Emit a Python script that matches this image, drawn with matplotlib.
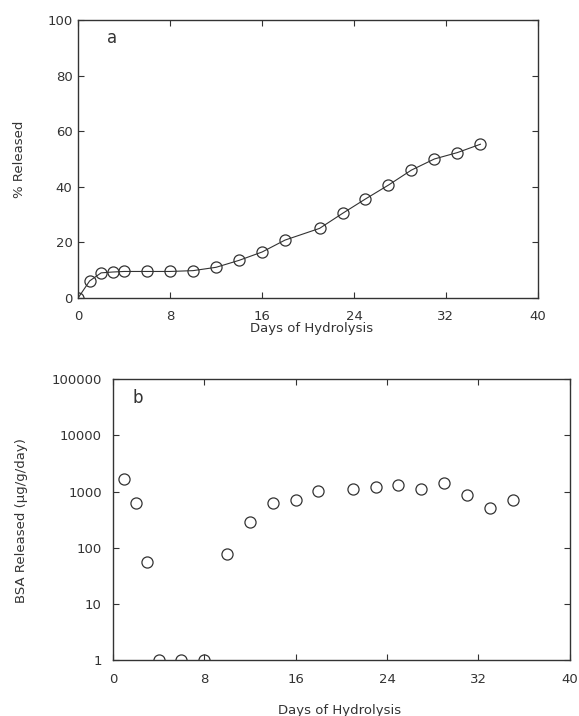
import numpy as np
import matplotlib
matplotlib.use('Agg')
import matplotlib.pyplot as plt
from matplotlib.ticker import FixedLocator, FixedFormatter

plt.rcParams['font.family'] = ['DejaVu Sans']
plt.rcParams['font.size'] = 9.5

# data
days_a = [0, 1, 2, 3, 4, 6, 8, 10, 12, 14, 16, 18, 21, 23, 25, 27, 29, 31, 33, 35]
released_pct = [0, 6.1, 9.0, 9.3, 9.5, 9.5, 9.5, 9.8, 11, 13.5, 16.5, 20.8, 25, 30.4, 35.6, 40.6, 46, 50, 52.3, 55.3]

days_b = [1, 2, 3, 4, 6, 8, 10, 12, 14, 16, 18, 21, 23, 25, 27, 29, 31, 33, 35]
rate_b = [1660, 630, 55, 1, 1, 1, 77, 290, 613, 720, 1020, 1090, 1210, 1290, 1090, 1390, 865, 500, 705]

x_ticks = [0, 8, 16, 24, 32, 40]
y_ticks_a = [0, 20, 40, 60, 80, 100]
y_ticks_b = [1, 10, 100, 1000, 10000, 100000]
y_labels_b = ['1', '10', '100', '1000', '10000', '100000']

ink = '#333333'

fig = plt.figure(figsize=(5.79, 7.16), dpi=100)

# panel a
ax1 = fig.add_axes([0.135, 0.584, 0.794, 0.388])
ax1.plot(days_a, released_pct, '-', color=ink, lw=0.8, marker='o', ms=8,
         mfc='none', mec=ink, mew=0.9)
ax1.set_xlim(0, 40)
ax1.set_ylim(0, 100)
ax1.set_xticks(x_ticks)
ax1.set_yticks(y_ticks_a)
ax1.set_xlabel('Days of Hydrolysis', color=ink)
ax1.set_ylabel('% Released', color=ink)
ax1.xaxis.set_label_coords(0.507, -0.088)
ax1.yaxis.set_label_coords(-0.113, 0.5)
ax1.text(0.063, 0.917, 'a', transform=ax1.transAxes, fontsize=12, color=ink)
ax1.tick_params(axis='x', pad=9)
ax1.tick_params(axis='y', pad=4)

# panel b
ax2 = fig.add_axes([0.195, 0.078, 0.789, 0.3925])
ax2.plot(days_b, rate_b, 'o', ms=8, mfc='none', mec=ink, mew=0.9)
ax2.set_yscale('log')
ax2.set_xlim(0, 40)
ax2.set_ylim(1, 100000)
ax2.set_xticks(x_ticks)
ax2.yaxis.set_major_locator(FixedLocator(y_ticks_b))
ax2.yaxis.set_major_formatter(FixedFormatter(y_labels_b))
ax2.yaxis.set_minor_locator(FixedLocator([]))
ax2.set_xlabel('Days of Hydrolysis', color=ink)
ax2.set_ylabel('BSA Released (\u03bcg/g/day)', color=ink)
ax2.xaxis.set_label_coords(0.497, -0.155)
ax2.yaxis.set_label_coords(-0.186, 0.495)
ax2.text(0.042, 0.915, 'b', transform=ax2.transAxes, fontsize=12, color=ink)
ax2.tick_params(axis='x', pad=9)
ax2.tick_params(axis='y', pad=8)

for ax in (ax1, ax2):
    for s in ax.spines.values():
        s.set_color(ink)
        s.set_linewidth(1.0)
    ax.tick_params(direction='in', top=True, right=True, length=4, width=0.8,
                   colors=ink, labelcolor=ink)

fig.savefig('out.png', dpi=100)
